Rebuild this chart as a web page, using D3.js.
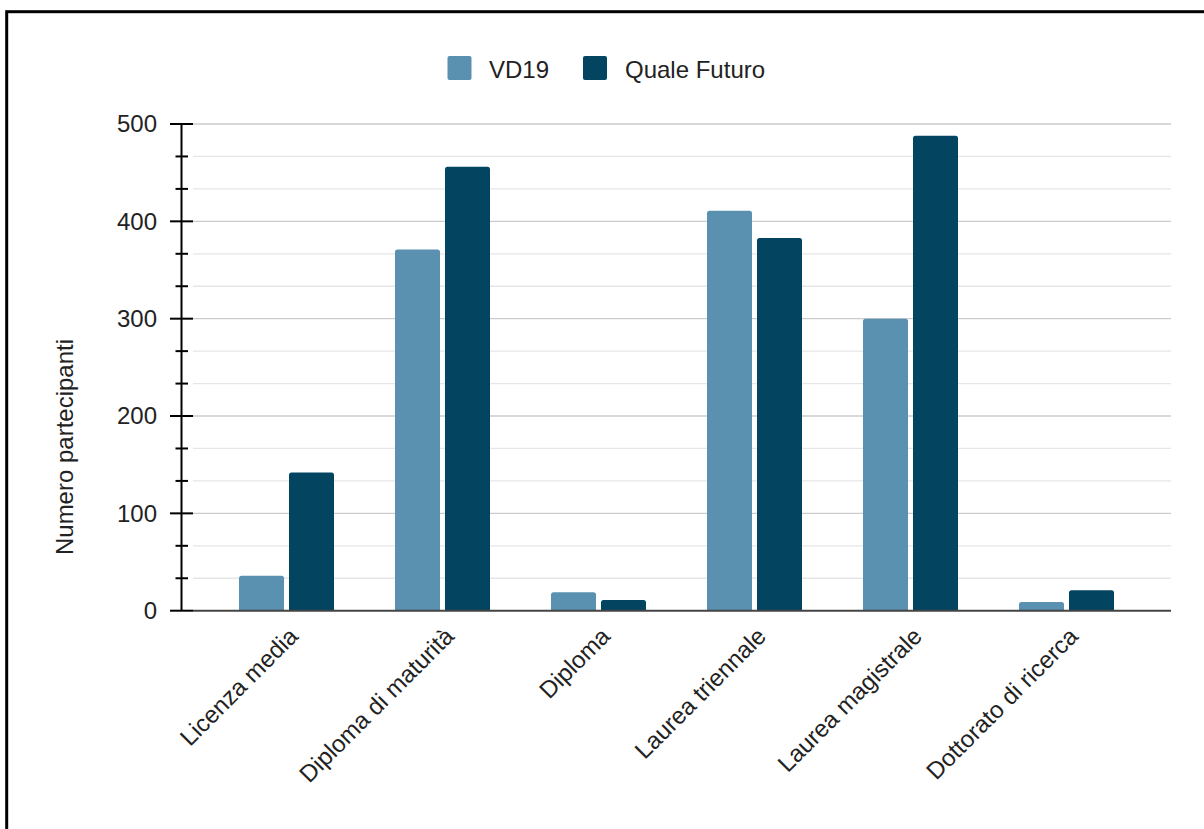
<!DOCTYPE html>
<html>
<head>
<meta charset="utf-8">
<script src="https://cdn.jsdelivr.net/npm/d3@7"></script>
<style>
  html, body { margin: 0; padding: 0; background: #fff; }
  svg { display: block; }
  text { font-family: Arial, "Liberation Sans", sans-serif; }
</style>
</head>
<body>
<svg id="chart" width="1204" height="829"></svg>
<script>
const categories = ["Licenza media", "Diploma di maturità", "Diploma", "Laurea triennale", "Laurea magistrale", "Dottorato di ricerca"];
const seriesNames = ["VD19", "Quale Futuro"];
const vd19 = [36, 371, 19, 411, 300, 9];
const qualeFuturo = [142, 456, 11, 383, 488, 21];
const yTicks = [0, 100, 200, 300, 400, 500];
const yTitle = "Numero partecipanti";
const colors = ["#5a91b0", "#034561"];

const seriesValues = [vd19, qualeFuturo];
const svg = d3.select("#chart");

// frame
svg.append("rect").attr("x", 6.7).attr("y", 11.7).attr("width", 1400).attr("height", 1000)
  .attr("fill", "none").attr("stroke", "#000").attr("stroke-width", 3);

const y = d3.scaleLinear().domain([0, 500]).range([610.7, 124]);
const x0 = d3.scaleBand().domain(categories).range([208.5, 1144.5]).padding(0);
const groupW = 95;
const x1 = d3.scaleBand().domain(seriesNames).range([0, groupW]).paddingInner(0.1);

const axisX = 181.5, gridX0 = 193, gridX1 = 1171;
const minorTicks = d3.range(0, 500, 100 / 3).filter((v, i) => i % 3 !== 0);

// gridlines
svg.append("g").selectAll("line").data(minorTicks).join("line")
  .attr("x1", gridX0).attr("x2", gridX1)
  .attr("y1", d => y(d)).attr("y2", d => y(d))
  .attr("stroke", "#e6e6e6").attr("stroke-width", 1.3);
svg.append("g").selectAll("line").data(yTicks.filter(d => d > 0)).join("line")
  .attr("x1", gridX0).attr("x2", gridX1)
  .attr("y1", d => y(d)).attr("y2", d => y(d))
  .attr("stroke", "#cccccc").attr("stroke-width", 1.3);

// bars
const barPath = (x, y0, w, yTop, r) => {
  const h = y0 - yTop;
  const rr = Math.min(r, h, w / 2);
  return `M${x},${y0}V${yTop + rr}Q${x},${yTop} ${x + rr},${yTop}H${x + w - rr}Q${x + w},${yTop} ${x + w},${yTop + rr}V${y0}Z`;
};
const barData = [];
categories.forEach((c, i) => {
  seriesNames.forEach((s, j) => barData.push({ c, s, v: seriesValues[j][i], j }));
});
svg.append("g").selectAll("path").data(barData).join("path")
  .attr("d", d => {
    const bx = x0(d.c) + (x0.bandwidth() - groupW) / 2 + x1(d.s);
    return barPath(bx, y(0), x1.bandwidth(), y(d.v), 2.5);
  })
  .attr("fill", d => colors[d.j]);

// x axis baseline
svg.append("line").attr("x1", gridX0).attr("x2", gridX1).attr("y1", y(0)).attr("y2", y(0))
  .attr("stroke", "#444").attr("stroke-width", 2);

// y axis
const yAxis = svg.append("g");
yAxis.append("line").attr("x1", axisX).attr("x2", axisX).attr("y1", y(500)).attr("y2", y(0))
  .attr("stroke", "#000").attr("stroke-width", 2);
yAxis.selectAll("line.major").data(yTicks).join("line").attr("class", "major")
  .attr("x1", 170).attr("x2", 193).attr("y1", d => y(d)).attr("y2", d => y(d))
  .attr("stroke", "#000").attr("stroke-width", 2);
yAxis.selectAll("line.minor").data(minorTicks).join("line").attr("class", "minor")
  .attr("x1", 175.5).attr("x2", 188).attr("y1", d => y(d)).attr("y2", d => y(d))
  .attr("stroke", "#000").attr("stroke-width", 2);
yAxis.selectAll("text").data(yTicks).join("text")
  .attr("x", 157).attr("y", d => y(d)).attr("dy", "0.35em")
  .attr("text-anchor", "end").attr("font-size", 24).attr("fill", "#222")
  .text(d => d);

// y title
svg.append("text").attr("transform", "translate(73,447) rotate(-90)")
  .attr("text-anchor", "middle").attr("font-size", 24).attr("fill", "#222").text(yTitle);

// x labels
svg.append("g").selectAll("text").data(categories).join("text")
  .attr("transform", d => `translate(${x0(d) + x0.bandwidth() / 2 + 13},${y(0) + 27}) rotate(-45)`)
  .attr("text-anchor", "end").attr("font-size", 24).attr("fill", "#222")
  .text(d => d);

// legend
const legend = svg.append("g");
const legendItems = [{ x: 447.5, tx: 489 }, { x: 583, tx: 625 }];
seriesNames.forEach((s, j) => {
  legend.append("rect").attr("x", legendItems[j].x).attr("y", 56).attr("width", 24).attr("height", 24)
    .attr("rx", 2).attr("fill", colors[j]);
  legend.append("text").attr("x", legendItems[j].tx).attr("y", 77.5)
    .attr("font-size", 24).attr("fill", "#222").text(s);
});
</script>
</body>
</html>
